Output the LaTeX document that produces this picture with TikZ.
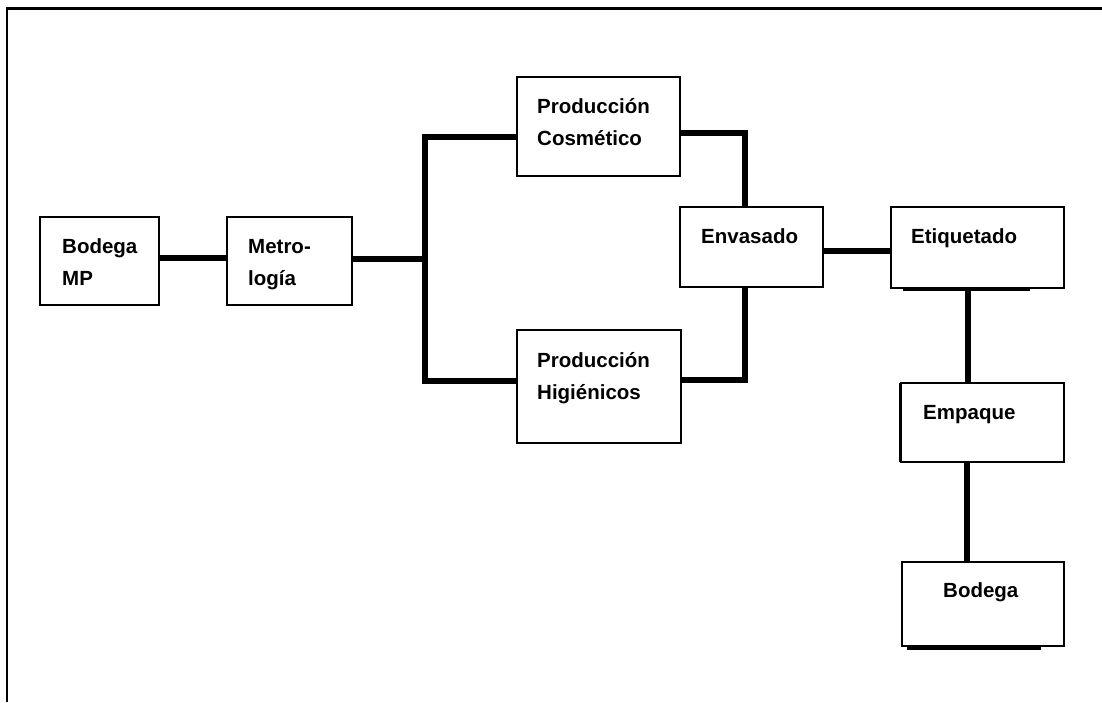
\documentclass[tikz,border=0pt]{standalone}
\usepackage{fontspec}
\setmainfont{Liberation Sans}
\begin{document}
\begin{tikzpicture}[x=1pt,y=-1pt,
  box/.style={draw, line width=1.8pt, anchor=north west, inner sep=0pt, outer sep=0pt},
  txt/.style={anchor=base west, inner sep=0pt, font=\fontsize{20.5}{24}\selectfont\bfseries},
  link/.style={line width=6pt},
  edge/.style={line width=3pt}]
\useasboundingbox (0,0) rectangle (1102,702);

% outer frame (open on the right and bottom)
\draw[line width=2.6pt] (7,702) -- (7,8.5) -- (1102,8.5);

% process boxes
\node[box, minimum width=119pt, minimum height=88pt]  (bmp) at (40,217)  {};
\node[box, minimum width=125pt, minimum height=88pt]  (met) at (227,217) {};
\node[box, minimum width=163pt, minimum height=99pt]  (pc)  at (517,77)  {};
\node[box, minimum width=164pt, minimum height=113pt] (ph)  at (517,330) {};
\node[box, minimum width=143pt, minimum height=80pt]  (env) at (680,207) {};
\node[box, minimum width=173pt, minimum height=81pt]  (etq) at (891,207) {};
\node[box, minimum width=163pt, minimum height=79pt]  (emp) at (901,383) {};
\node[box, minimum width=162pt, minimum height=84pt]  (bod) at (902,562) {};

% box labels
\node[txt] (bmp1) at (62,253)  {Bodega};
\node[txt] (bmp2) at (62,285)  {MP};
\node[txt] (met1) at (248,253) {Metro-};
\node[txt] (met2) at (248,285) {logía};
\node[txt] (pc1)  at (537,113) {Producción};
\node[txt] (pc2)  at (537,145) {Cosmético};
\node[txt] (ph1)  at (537,367) {Producción};
\node[txt] (ph2)  at (537,399) {Higiénicos};
\node[txt] (env1) at (701,243) {Envasado};
\node[txt] (etq1) at (911,243) {Etiquetado};
\node[txt] (emp1) at (923,419) {Empaque};
\node[txt] (bod1) at (943,597) {Bodega};

% junction points of the connectors
\coordinate (ha) at (200,258);
\coordinate (jm) at (425,259);
\coordinate (jt) at (425,137);
\coordinate (jb) at (425,381);
\coordinate (kt) at (745,133);
\coordinate (kb) at (745,380);
\coordinate (he) at (850,251);
\coordinate (ve) at (968,330);
\coordinate (vf) at (967,510);

% connectors
\draw[link] (bmp.east |- ha) -- (met.west |- ha);
\draw[link] (met.east |- jm) -- (jm);
\draw[link] (jt -| pc.west) -- (jt) -- (jb) -- (jb -| ph.west);
\draw[link] (pc.east |- kt) -- (kt) -- (kt |- env.north);
\draw[link] (ph.east |- kb) -- (kb) -- (kb |- env.south);
\draw[link] (env.east |- he) -- (etq.west |- he);
\draw[link] (etq.south -| ve) -- (emp.north -| ve);
\draw[link] (emp.south -| vf) -- (bod.north -| vf);

% heavier edge strokes on some boxes
\draw[edge] ([xshift=12pt,yshift=-1.5pt]etq.south west) -- ([xshift=-34pt,yshift=-1.5pt]etq.south east);
\draw[edge] ([xshift=-1pt]emp.north west) -- ([xshift=-1pt]emp.south west);
\draw[line width=3.5pt] ([xshift=5pt,yshift=-2pt]bod.south west) -- ([xshift=-23pt,yshift=-2pt]bod.south east);
\end{tikzpicture}
\end{document}
